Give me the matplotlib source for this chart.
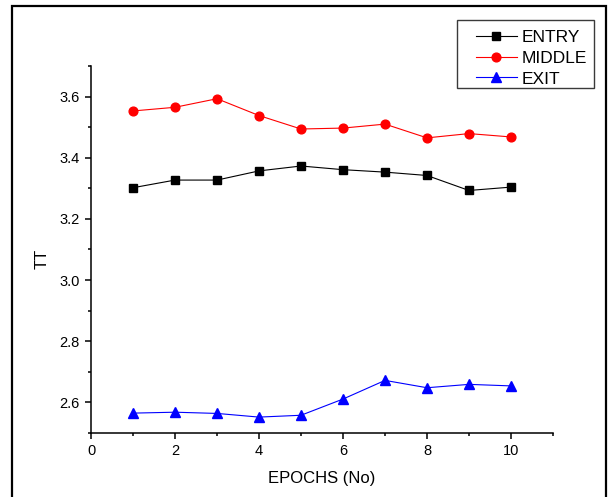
import matplotlib
matplotlib.use("Agg")
import matplotlib.pyplot as plt
import matplotlib.patches as mpatches
from matplotlib.ticker import MultipleLocator

plt.rcParams['font.family'] = ['Liberation Sans', 'DejaVu Sans']

# data
epochs = [1, 2, 3, 4, 5, 6, 7, 8, 9, 10]
entry = [3.302, 3.327, 3.327, 3.357, 3.373, 3.361, 3.353, 3.342, 3.293, 3.304]
middle = [3.553, 3.565, 3.593, 3.538, 3.494, 3.497, 3.510, 3.465, 3.479, 3.468]
exit_ = [2.565, 2.568, 2.564, 2.552, 2.558, 2.611, 2.672, 2.648, 2.659, 2.654]

W, H = 608, 497
fig = plt.figure(figsize=(W / 100, H / 100), dpi=100)
ax = fig.add_axes([91 / W, 1 - 433 / H, (553 - 91) / W, (433 - 66) / H])

ax.plot(epochs, entry, color='black', marker='s', markersize=5.5, lw=0.8, label='ENTRY')
ax.plot(epochs, middle, color='red', marker='o', markersize=6.3, lw=0.8, label='MIDDLE')
ax.plot(epochs, exit_, color='blue', marker='^', markersize=7, lw=0.8, label='EXIT')

ax.set_xlim(0, 11)
ax.set_ylim(2.5, 3.7)
ax.xaxis.set_minor_locator(MultipleLocator(1))
ax.yaxis.set_minor_locator(MultipleLocator(0.1))
ax.set_xticks([0, 2, 4, 6, 8, 10])
ax.set_yticks([2.6, 2.8, 3.0, 3.2, 3.4, 3.6])
ax.set_yticklabels(['2.6', '2.8', '3.0', '3.2', '3.4', '3.6'])

ax.spines['top'].set_visible(False)
ax.spines['right'].set_visible(False)
for s in ('left', 'bottom'):
    ax.spines[s].set_linewidth(1.1)
ax.tick_params(which='major', length=4, width=1.1, labelsize=10.5, pad=4, direction='out')
ax.tick_params(which='minor', length=2.3, width=1.1, direction='out')

ax.set_xlabel('EPOCHS (No)', fontsize=12)
ax.xaxis.set_label_coords(0.5, -0.104)
ax.set_ylabel('TT', fontsize=12)
ax.yaxis.set_label_coords(-0.089, 0.475)

# legend entries without mpl frame, boxed by hand to match the wider left margin
leg = ax.legend(loc='upper left', bbox_to_anchor=(476 / W, 1 - 30 / H),
                bbox_transform=fig.transFigure, fontsize=12.5, frameon=False,
                borderpad=0, labelspacing=0.32, handlelength=2.35,
                handletextpad=0.25, borderaxespad=0)
box = mpatches.Rectangle((457 / W, 1 - 88 / H), (594 - 457) / W, (88 - 20) / H,
                         transform=fig.transFigure, fill=False,
                         edgecolor='#3a3a3a', linewidth=1.0)
fig.add_artist(box)

# outer frame around the picture (bottom edge is cut off)
frame = mpatches.Rectangle((12 / W, -0.05), (606 - 12) / W, 1.05 - 6 / H,
                           transform=fig.transFigure, fill=False,
                           edgecolor='black', linewidth=1.6)
fig.add_artist(frame)

fig.savefig('out.png', dpi=100)
plt.close()
